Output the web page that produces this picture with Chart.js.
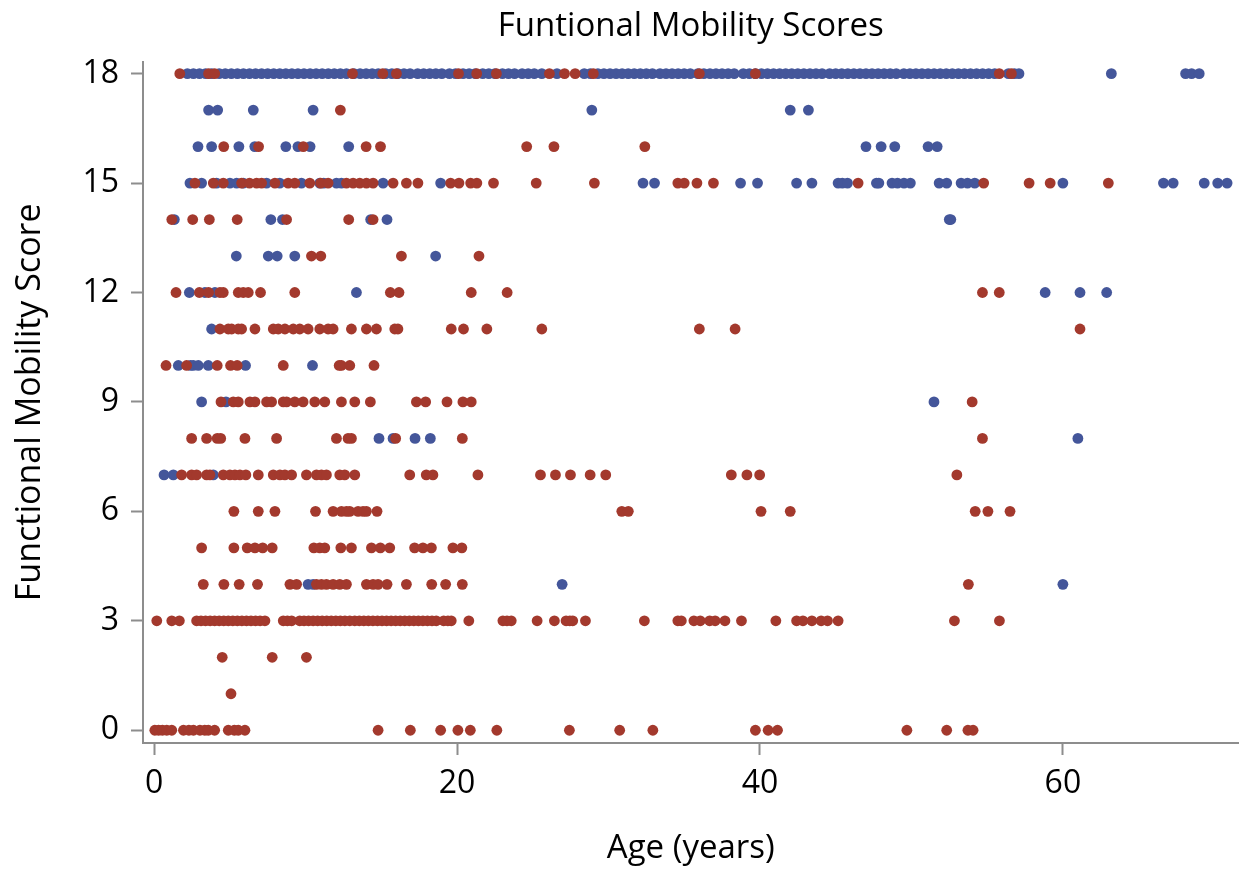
<!DOCTYPE html>
<html>
<head>
<meta charset="utf-8">
<script src="https://cdn.jsdelivr.net/npm/chart.js@4.4.0/dist/chart.umd.min.js"></script>
<style>
  html, body { margin: 0; padding: 0; background: #fff; }
</style>
</head>
<body>
<canvas id="scores" width="1244" height="871"></canvas>
<script>
// tick labels
const xTicks = [0, 20, 40, 60];
const yTicks = [0, 3, 6, 9, 12, 15, 18];

// ages per score, blue group
const blueRows = [
  [18, [2.2, 2.6, 3.0, 3.4, 3.8, 4.3, 4.7, 5.1, 5.5, 5.9, 6.3, 6.7, 7.1, 7.5, 7.9, 8.3, 8.7, 9.1, 9.5, 9.9,
        10.3, 10.7, 11.1, 11.5, 11.9, 12.3, 12.7, 13.2, 13.6, 14.0, 14.4, 14.8, 15.3, 15.7, 16.1, 16.5, 16.9,
        17.4, 17.8, 18.2, 18.6, 19.0, 19.5, 19.9, 20.4, 20.8, 21.2, 21.7, 22.1, 22.5, 23.0, 23.4, 23.8, 24.3,
        24.7, 25.1, 25.6, 26.6, 28.4, 28.8, 29.3, 29.7, 30.1, 30.5, 30.9, 31.3, 31.7, 32.1, 32.5, 32.9, 33.4,
        33.8, 34.2, 34.6, 35.0, 35.4, 35.9, 36.3, 36.7, 37.1, 37.5, 37.9, 38.3, 38.9, 39.3, 39.7, 40.1, 40.5,
        40.9, 41.3, 41.7, 42.1, 42.5, 42.9, 43.3, 43.7, 44.1, 44.6, 45.0, 45.4, 45.8, 46.2, 46.6, 47.0, 47.4,
        47.8, 48.2, 48.6, 49.0, 49.5, 49.9, 50.3, 50.7, 51.1, 51.5, 51.9, 52.3, 52.7, 53.1, 53.5, 53.9, 54.3,
        54.7, 55.1, 55.5, 56.4, 56.8, 57.1, 63.2, 68.1, 68.5, 69.0]],
  [17, [3.6, 4.2, 6.55, 10.5, 28.9, 42.0, 43.2]],
  [16, [2.9, 3.8, 5.6, 6.65, 8.7, 9.5, 10.3, 12.85, 47.0, 48.0, 48.9, 51.1, 51.7]],
  [15, [2.37, 3.14, 4.13, 5.01, 5.45, 5.89, 7.43, 8.3, 9.73, 10.94, 11.2, 12.04, 12.37, 15.12, 18.92, 32.28,
        33.04, 38.72, 39.84, 42.42, 43.43, 45.16, 45.44, 45.78, 47.69, 47.85, 48.72, 49.08, 49.51, 49.93,
        51.83, 52.33, 53.28, 53.7, 54.18, 60.0, 66.64, 67.28, 69.33, 70.22, 70.84]],
  [14, [1.34, 7.71, 8.48, 14.3, 15.38, 52.5, 52.6]],
  [13, [5.43, 7.54, 8.13, 9.29, 18.59]],
  [12, [2.33, 3.36, 4.02, 13.36, 58.83, 61.13, 62.89]],
  [11, [3.8]],
  [10, [1.6, 2.4, 2.59, 2.92, 3.58, 6.04, 10.46]],
  [9, [3.14, 4.75, 51.49]],
  [8, [14.85, 15.78, 17.23, 18.24, 60.99]],
  [7, [0.66, 1.27, 3.91]],
  [4, [10.17, 10.5, 26.94, 60.0]]
];

// ages per score, red group
const redRows = [
  [18, [1.7, 3.6, 4.0, 13.1, 15.1, 16.0, 20.1, 21.3, 22.6, 26.1, 27.1, 27.8, 29.0, 36.0, 39.7, 55.8, 56.6]],
  [17, [12.3]],
  [16, [4.6, 6.9, 9.85, 14.0, 14.95, 24.6, 26.4, 32.4]],
  [15, [2.7, 3.91, 4.57, 5.78, 6.3, 6.77, 7.1, 7.98, 8.85, 9.29, 10.28, 11.0, 11.49, 12.7, 13.14, 13.58,
        14.02, 14.46, 15.78, 16.66, 17.42, 19.58, 20.13, 20.9, 21.31, 22.41, 25.23, 29.07, 34.58, 35.0, 35.84,
        36.93, 46.48, 54.77, 57.77, 59.16, 63.0]],
  [14, [1.17, 2.55, 3.65, 5.49, 8.75, 12.85, 14.46]],
  [13, [10.39, 11.01, 16.33, 21.45]],
  [12, [1.45, 2.99, 3.6, 4.35, 4.57, 5.56, 5.89, 6.22, 7.03, 9.29, 15.6, 16.17, 20.94, 23.31, 54.69, 55.8]],
  [11, [4.35, 4.9, 5.12, 5.56, 5.78, 6.66, 7.87, 8.2, 8.64, 9.19, 9.62, 10.17, 10.94, 11.49, 11.82, 13.03,
        14.02, 14.68, 15.89, 16.1, 19.62, 20.43, 21.97, 25.6, 36.0, 38.36, 61.13]],
  [10, [0.79, 2.15, 4.17, 5.05, 5.49, 8.53, 12.22, 12.37, 12.92, 14.52]],
  [9, [4.42, 5.23, 5.56, 6.33, 6.66, 7.43, 7.76, 8.53, 8.75, 9.29, 9.84, 10.61, 11.27, 12.37, 13.25, 14.28,
       17.32, 17.93, 19.34, 20.39, 20.94, 54.01]],
  [8, [2.48, 3.47, 4.17, 4.4, 6.0, 8.09, 12.04, 12.81, 13.03, 15.95, 20.35, 54.69]],
  [7, [1.82, 2.48, 2.81, 3.47, 3.69, 4.57, 5.01, 5.34, 5.67, 6.06, 6.88, 7.87, 8.31, 8.64, 9.08, 10.06,
       10.72, 11.05, 11.38, 12.26, 12.59, 13.25, 16.88, 17.97, 18.41, 21.38, 25.51, 26.5, 27.49, 28.79,
       29.82, 38.11, 39.14, 39.98, 53.0]],
  [6, [5.27, 6.88, 7.98, 10.66, 11.82, 12.37, 12.7, 12.92, 13.47, 13.8, 14.02, 14.72, 30.88, 31.31, 40.07,
       42.0, 54.21, 55.05, 56.51]],
  [5, [3.14, 5.27, 6.15, 6.66, 7.17, 7.8, 10.55, 10.94, 11.27, 12.33, 13.03, 14.35, 14.94, 15.56, 17.2,
       17.75, 18.31, 19.73, 20.32]],
  [4, [3.25, 4.61, 5.62, 6.83, 8.97, 9.41, 10.72, 11.05, 11.38, 11.82, 12.26, 12.7, 14.02, 14.46, 14.79,
       15.38, 16.66, 18.33, 19.25, 20.35, 53.76]],
  [3, [0.18, 1.17, 1.67, 2.81, 3.1, 3.4, 3.7, 4.0, 4.3, 4.6, 4.9, 5.2, 5.5, 5.8, 6.1, 6.4, 6.7, 7.0, 7.32,
       8.53, 8.8, 9.08, 9.62, 9.9, 10.2, 10.5, 10.8, 11.1, 11.4, 11.7, 12.0, 12.3, 12.6, 12.92, 13.25, 13.55,
       13.85, 14.15, 14.45, 14.75, 15.05, 15.35, 15.65, 15.95, 16.25, 16.55, 16.85, 17.15, 17.45, 17.75,
       18.05, 18.35, 18.63, 19.12, 19.4, 19.62, 20.78, 23.03, 23.3, 23.58, 25.29, 26.43, 27.2, 27.45, 27.64,
       28.48, 32.37, 34.58, 34.81, 35.64, 36.06, 36.68, 37.04, 37.69, 38.78, 41.05, 42.42, 42.84, 43.43,
       44.04, 44.46, 45.16, 52.84, 55.81]],
  [2, [4.5, 7.8, 10.06]],
  [1, [5.08]],
  [0, [0.05, 0.3, 0.55, 0.84, 1.17, 1.94, 2.3, 2.6, 3.03, 3.35, 3.58, 4.0, 4.9, 5.3, 5.56, 6.0, 14.79, 16.92,
       18.92, 20.06, 20.88, 22.63, 27.42, 30.74, 32.93, 39.7, 40.54, 41.16, 49.7, 52.33, 53.73, 54.07]]
];

const BLUE = "#44569a";
const RED = "#a3392d";
const AXIS = "#8d8d8d";
const FONT = "'Open Sans', 'DejaVu Sans', sans-serif";

function toPoints(rows) {
  const pts = [];
  rows.forEach(([score, ages]) => ages.forEach(a => pts.push({x: a, y: score})));
  return pts;
}

const axisCommon = {
  border: {display: true, color: AXIS, width: 2},
  grid: {display: true, drawOnChartArea: false, drawTicks: true, tickLength: 12, tickWidth: 2, tickColor: AXIS}
};

new Chart(document.getElementById("scores"), {
  type: "scatter",
  data: {
    datasets: [
      {label: "red", data: toPoints(redRows), backgroundColor: RED, borderWidth: 0, pointRadius: 5.4, order: 0},
      {label: "blue", data: toPoints(blueRows), backgroundColor: BLUE, borderWidth: 0, pointRadius: 5.4, order: 1}
    ]
  },
  options: {
    responsive: false,
    animation: false,
    clip: false,
    layout: {padding: {left: 0, right: 4, top: 0, bottom: 0}},
    plugins: {
      legend: {display: false},
      tooltip: {enabled: false},
      title: {
        display: true,
        fullSize: false,
        text: "Funtional Mobility Scores",
        color: "#000",
        font: {family: FONT, size: 33, weight: "normal"},
        padding: {top: 7, bottom: 15}
      }
    },
    scales: {
      x: {
        ...axisCommon,
        type: "linear",
        min: -0.73,
        max: 71.6,
        ticks: {color: "#000", font: {family: FONT, size: 32}, padding: 10},
        afterBuildTicks: (s) => { s.ticks = xTicks.map(v => ({value: v})); },
        afterFit: (s) => { s.height = 128; },
        title: {display: true, text: "Age (years)", color: "#000", font: {family: FONT, size: 33}, padding: {top: 0, bottom: 3}}
      },
      y: {
        ...axisCommon,
        min: -0.35,
        max: 18.33,
        ticks: {color: "#000", font: {family: FONT, size: 32}, padding: 12},
        afterBuildTicks: (s) => { s.ticks = yTicks.map(v => ({value: v})); },
        afterFit: (s) => { s.width = 143; },
        title: {display: true, text: "Functional Mobility Score", color: "#000", font: {family: FONT, size: 34}, padding: {top: 10, bottom: 0}}
      }
    }
  }
});
</script>
</body>
</html>
